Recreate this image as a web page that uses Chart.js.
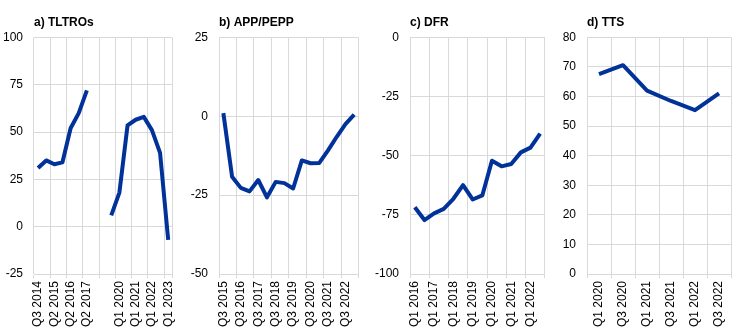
<!DOCTYPE html>
<html>
<head>
<meta charset="utf-8">
<script src="https://cdn.jsdelivr.net/npm/chart.js@4/dist/chart.umd.min.js"></script>
<style>
  html, body { margin: 0; padding: 0; background: #fff; }
  .row { display: flex; width: 744px; height: 333px; }
  .panel { position: relative; width: 186px; height: 333px; }
</style>
</head>
<body>
<div class="row">
  <div class="panel"><canvas id="chartA"></canvas></div>
  <div class="panel"><canvas id="chartB"></canvas></div>
  <div class="panel"><canvas id="chartC"></canvas></div>
  <div class="panel"><canvas id="chartD"></canvas></div>
</div>
<script>
// a) TLTROs
const tltroLabels = ['Q3 2014', 'Q4 2014', 'Q2 2015', 'Q4 2015', 'Q2 2016', 'Q4 2016', 'Q2 2017', 'Q4 2017',
  '', 'Q3 2019', 'Q1 2020', 'Q3 2020', 'Q1 2021', 'Q3 2021', 'Q1 2022', 'Q3 2022', 'Q1 2023'];
const tltroValues = [31, 35, 33, 34, 52, 60, 72, null, null, 6, 18, 53.5, 56.5, 58, 51, 39, -7];

// b) APP/PEPP
const appLabels = ['Q3 2015', 'Q1 2016', 'Q3 2016', 'Q1 2017', 'Q3 2017', 'Q1 2018', 'Q3 2018', 'Q1 2019',
  'Q3 2019', 'Q1 2020', 'Q3 2020', 'Q1 2021', 'Q3 2021', 'Q1 2022', 'Q3 2022', 'Q1 2023'];
const appValues = [1, -19.2, -22.7, -23.8, -20.2, -25.7, -20.8, -21.2, -22.9, -14, -14.9, -14.8, -10.8, -6.5, -2.5, 0.5];

// c) DFR
const dfrLabels = ['Q1 2016', 'Q3 2016', 'Q1 2017', 'Q3 2017', 'Q1 2018', 'Q3 2018', 'Q1 2019', 'Q3 2019',
  'Q1 2020', 'Q3 2020', 'Q1 2021', 'Q3 2021', 'Q1 2022', 'Q3 2022'];
const dfrValues = [-71.8, -77.2, -74.4, -72.5, -68.2, -62.4, -68.5, -66.8, -52.1, -54.5, -53.5, -48.6, -46.6, -40.7];

// d) TTS
const ttsLabels = ['Q1 2020', 'Q3 2020', 'Q1 2021', 'Q3 2021', 'Q1 2022', 'Q3 2022'];
const ttsValues = [67.6, 70.6, 62, 58.5, 55.4, 61.1];

const LINE = '#003299';
const GRID = '#d9d9d9';
Chart.defaults.font.family = 'Arial, "Liberation Sans", sans-serif';
Chart.defaults.font.size = 12;
Chart.defaults.color = '#000';

function makeChart(id, title, labels, values, yMin, yMax, yStep, axisWidth, rightPad, everyOther) {
  const gridColor = (c) => {
    if (!everyOther || c.index === undefined) return GRID;
    return c.index % 2 === 0 ? GRID : 'rgba(0,0,0,0)';
  };
  return new Chart(document.getElementById(id), {
    type: 'line',
    data: {
      labels: labels,
      datasets: [{
        data: values,
        borderColor: LINE,
        borderWidth: 4,
        pointRadius: 0,
        tension: 0,
        spanGaps: false,
        borderJoinStyle: 'round'
      }]
    },
    options: {
      responsive: false,
      animation: false,
      layout: { padding: { top: 0, right: rightPad, bottom: 0, left: 0 } },
      plugins: {
        legend: { display: false },
        tooltip: { enabled: false },
        title: {
          display: true,
          text: title,
          align: 'start',
          fullSize: false,
          font: { size: 12, weight: 'bold' },
          color: '#000',
          padding: { top: 15, bottom: 8 }
        }
      },
      scales: {
        x: {
          offset: true,
          grid: { offset: true, color: gridColor, drawTicks: true, tickLength: 4 },
          border: { color: GRID },
          afterFit: (s) => { s.height = 59; },
          ticks: {
            autoSkip: false,
            minRotation: 90,
            maxRotation: 90,
            padding: 3,
            callback: function (v, i) {
              if (everyOther && i % 2 === 1) return '';
              return this.getLabelForValue(v);
            }
          }
        },
        y: {
          min: yMin,
          max: yMax,
          grid: { color: GRID, drawTicks: false },
          border: { display: false },
          afterFit: (s) => { s.width = axisWidth; },
          ticks: { stepSize: yStep, padding: 11 }
        }
      }
    }
  });
}

function sizeCanvas(id) {
  const c = document.getElementById(id);
  c.width = 186; c.height = 333;
  c.style.width = '186px'; c.style.height = '333px';
}
['chartA', 'chartB', 'chartC', 'chartD'].forEach(sizeCanvas);

makeChart('chartA', 'a) TLTROs', tltroLabels, tltroValues, -25, 100, 25, 34, 13, true);
makeChart('chartB', 'b) APP/PEPP', appLabels, appValues, -50, 25, 25, 33, 9, true);
makeChart('chartC', 'c) DFR', dfrLabels, dfrValues, -100, 0, 25, 38, 12, true);
makeChart('chartD', 'd) TTS', ttsLabels, ttsValues, 0, 80, 10, 29, 13, false);
</script>
</body>
</html>
